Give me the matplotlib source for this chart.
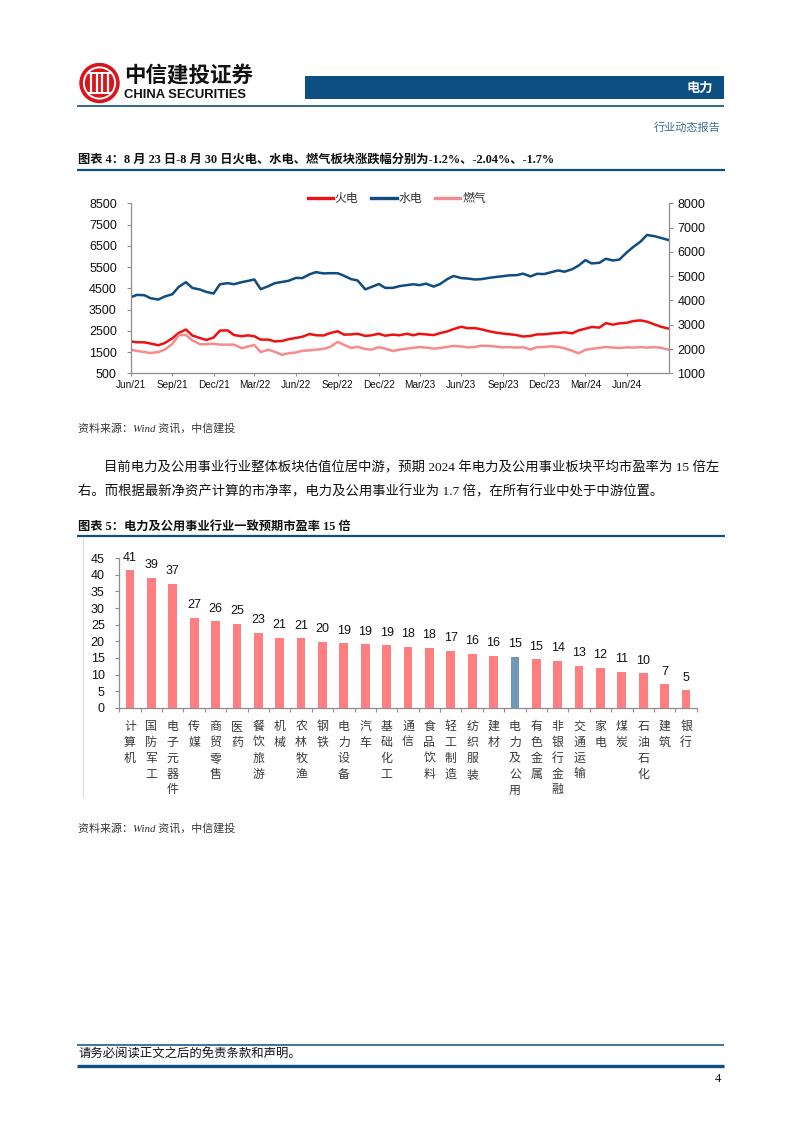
import matplotlib
matplotlib.use('Agg')
import matplotlib.pyplot as plt
import matplotlib.dates as mdates
from matplotlib.patches import Circle, Rectangle
from matplotlib.lines import Line2D
from matplotlib.transforms import blended_transform_factory
import pandas as pd

# ---------------- data ----------------
dates = list(pd.date_range('2021-06-01', periods=78, freq='SMS')) + [pd.Timestamp('2024-08-30')]

thermal = [2000, 1960, 1960, 1900, 1820, 1920, 2150, 2400, 2560, 2280, 2160, 2070, 2180, 2510, 2520, 2300, 2245, 2285, 2245, 2085,
           2085, 2000, 2020, 2100, 2165, 2220, 2350, 2290, 2280, 2390, 2480, 2320, 2330, 2360, 2260, 2290, 2360, 2270, 2320, 2290,
           2360, 2290, 2360, 2330, 2300, 2390, 2470, 2580, 2690, 2620, 2630, 2570, 2480, 2420, 2370, 2340, 2300, 2230, 2260, 2330,
           2335, 2370, 2400, 2430, 2380, 2520, 2600, 2680, 2650, 2860, 2790, 2850, 2880, 2960, 2990, 2930, 2800, 2690, 2610]
hydro = [4080, 4190, 4175, 4033, 3970, 4113, 4220, 4566, 4788, 4519, 4443, 4330, 4254, 4693, 4740, 4693, 4788, 4849, 4915, 4458,
         4600, 4740, 4800, 4850, 4990, 4980, 5160, 5260, 5200, 5210, 5210, 5090, 4930, 4870, 4450, 4566, 4700, 4520, 4520, 4600,
         4650, 4690, 4650, 4720, 4580, 4700, 4930, 5080, 4980, 4960, 4915, 4930, 4990, 5030, 5070, 5110, 5118, 5190, 5060, 5180,
         5170, 5250, 5340, 5280, 5400, 5570, 5825, 5670, 5700, 5890, 5810, 5850, 6200, 6450, 6700, 7010, 6950, 6870, 6780]
gas = [1610, 1550, 1500, 1455, 1500, 1610, 1880, 2300, 2300, 2050, 1870, 1865, 1890, 1850, 1850, 1850, 1680, 1760, 1830, 1500,
       1610, 1510, 1370, 1440, 1480, 1560, 1580, 1610, 1650, 1740, 1980, 1840, 1690, 1750, 1640, 1613, 1730, 1660, 1550, 1610,
       1660, 1700, 1735, 1710, 1660, 1690, 1740, 1790, 1760, 1720, 1740, 1800, 1790, 1760, 1720, 1730, 1710, 1730, 1620, 1730,
       1740, 1770, 1740, 1680, 1560, 1440, 1600, 1650, 1700, 1735, 1710, 1690, 1720, 1710, 1730, 1710, 1730, 1700, 1620]
series_names = ['火电', '水电', '燃气']
left_ticks = [500, 1500, 2500, 3500, 4500, 5500, 6500, 7500, 8500]
right_ticks = [1000, 2000, 3000, 4000, 5000, 6000, 7000, 8000]
xtick_dates = ['2021-06-01', '2021-09-01', '2021-12-01', '2022-03-01', '2022-06-01', '2022-09-01', '2022-12-01',
               '2023-03-01', '2023-06-01', '2023-09-01', '2023-12-01', '2024-03-01', '2024-06-01']

industries = ['计算机', '国防军工', '电子元器件', '传媒', '商贸零售', '医药', '餐饮旅游', '机械', '农林牧渔', '钢铁',
              '电力设备', '汽车', '基础化工', '通信', '食品饮料', '轻工制造', '纺织服装', '建材', '电力及公用', '有色金属',
              '非银行金融', '交通运输', '家电', '煤炭', '石油石化', '建筑', '银行']
pe = [41.4, 39.2, 37.4, 27.1, 26.1, 25.3, 22.6, 21.1, 20.9, 19.8, 19.4, 19.1, 18.8, 18.3, 18.1, 17.2, 16.3, 15.6,
      15.4, 14.6, 14.2, 12.6, 12.0, 10.9, 10.4, 7.0, 5.3]
highlight = '电力及公用'
pe_ticks = [0, 5, 10, 15, 20, 25, 30, 35, 40, 45]

# ---------------- page ----------------
W, H = 802, 1133
fig = plt.figure(figsize=(8.02, 11.33), dpi=100)

def fx(px):
    return px / W

def fy(py):
    return 1 - py / H

SERIF = ['Liberation Serif', 'Noto Sans CJK SC']
SANS = ['Liberation Sans', 'Noto Sans CJK SC']
CJK = ['Noto Sans CJK SC', 'DejaVu Sans']
BLUE = '#0d4f82'
GRAY_AX = '#8c8c8c'

def hline(y, x0, x1, lw, color=BLUE):
    fig.add_artist(Line2D([fx(x0), fx(x1)], [fy(y), fy(y)], transform=fig.transFigure,
                          color=color, lw=lw, solid_capstyle='butt'))

# header logo
axl = fig.add_axes([fx(79), fy(103.5), fx(41), 41 / H])
axl.set_xlim(-1.05, 1.05)
axl.set_ylim(-1.05, 1.05)
axl.set_aspect('equal')
axl.axis('off')
axl.add_patch(Circle((0, 0), 1.0, color='#d9141b'))
axl.add_patch(Circle((0, 0), 0.8, fill=False, ec='white', lw=1.4))
for xv in [-0.42, -0.14, 0.14, 0.42]:
    axl.plot([xv, xv], [-0.5, 0.5], color='white', lw=1.6, solid_capstyle='butt')
axl.plot([-0.55, 0.55], [0.5, 0.5], color='white', lw=1.4)
axl.plot([-0.55, 0.55], [-0.5, -0.5], color='white', lw=1.4)

fig.text(fx(124), fy(75), '中信建投证券', family=CJK, fontsize=15.5, weight='bold', color='#111111',
         va='center', ha='left')
fig.text(fx(124), fy(94.5), 'CHINA SECURITIES', family=['Liberation Sans'], fontsize=9.4, weight='bold',
         color='#111111', va='center', ha='left')
fig.add_artist(Rectangle((fx(305), fy(99.3)), fx(724 - 305), 23.3 / H, transform=fig.transFigure,
                         color=BLUE, lw=0))
fig.text(fx(713), fy(88), '电力', family=CJK, fontsize=9.5, weight='bold', color='white', va='center', ha='right')
hline(106, 77, 724, 1.2)
fig.text(fx(720), fy(127), '行业动态报告', family=CJK, fontsize=8, color='#3f6d96', va='center', ha='right')

# figure 4 title
fig.text(fx(78), fy(160), '图表 4：8 月 23 日-8 月 30 日火电、水电、燃气板块涨跌幅分别为-1.2%、-2.04%、-1.7%',
         family=SERIF, fontsize=8.8, weight='bold', color='#111111', va='center', ha='left')
hline(169.5, 77, 725, 1.6)

# ---------------- chart 4 ----------------
ax4 = fig.add_axes([fx(130.7), fy(373.3), fx(668.7 - 130.7), (373.3 - 203.3) / H])
colors4 = ['#ee1111', '#0f4c7f', '#f78b8b']
for vals, name, c in zip([thermal, hydro, gas], series_names, colors4):
    ax4.plot(dates, vals, color=c, lw=1.8, label=name, solid_joinstyle='round')
ax4.set_ylim(500, 8500)
ax4.set_yticks(left_ticks)
ax4.set_xlim(pd.Timestamp('2021-06-01'), pd.Timestamp('2024-09-01'))
ax4.set_xticks([pd.Timestamp(d) for d in xtick_dates])
ax4.xaxis.set_major_formatter(mdates.DateFormatter('%b/%y'))
ax4.spines['top'].set_visible(False)
ax4.spines['right'].set_visible(False)
for s in ['left', 'bottom']:
    ax4.spines[s].set_color(GRAY_AX)
    ax4.spines[s].set_linewidth(0.9)
ax4.tick_params(axis='y', length=3, width=0.8, color=GRAY_AX, pad=7, labelsize=9, labelcolor='#111111')
ax4.tick_params(axis='x', length=2, width=0.8, color=GRAY_AX, pad=2.8, labelsize=7.2, labelcolor='#111111')
for lab in ax4.get_xticklabels() + ax4.get_yticklabels():
    lab.set_family(['Liberation Sans'])
ax4r = ax4.twinx()
ax4r.set_ylim(1000, 8000)
ax4r.set_yticks(right_ticks)
for s in ['top', 'left', 'bottom']:
    ax4r.spines[s].set_visible(False)
ax4r.spines['right'].set_color(GRAY_AX)
ax4r.spines['right'].set_linewidth(0.9)
ax4r.tick_params(axis='y', length=3, width=0.8, color=GRAY_AX, pad=3.3, labelsize=9, labelcolor='#111111')
for lab in ax4r.get_yticklabels():
    lab.set_family(['Liberation Sans'])
leg = ax4.legend(loc='center', bbox_to_anchor=(0.4946, 1 + 5 / 170), ncol=3, frameon=False,
                 prop={'family': CJK, 'size': 8.6}, handlelength=2.1, handletextpad=0.15,
                 columnspacing=1.1, borderaxespad=0, borderpad=0)
for t in leg.get_texts():
    t.set_color('#333333')
for l in leg.get_lines():
    l.set_linewidth(2.4)

# source 1
fig.text(fx(78), fy(428), '资料来源：Wind 资讯，中信建投', family=SERIF, style='italic', fontsize=7.9,
         color='#333333', va='center', ha='left')

# paragraph
fig.text(fx(104), fy(468), '目前电力及公用事业行业整体板块估值位居中游，预期 2024 年电力及公用事业板块平均市盈率为 15 倍左',
         family=SERIF, fontsize=9.6, color='#111111', va='center', ha='left')
fig.text(fx(78), fy(492), '右。而根据最新净资产计算的市净率，电力及公用事业行业为 1.7 倍，在所有行业中处于中游位置。',
         family=SERIF, fontsize=9.6, color='#111111', va='center', ha='left')

# figure 5 title
fig.text(fx(78), fy(527), '图表 5：电力及公用事业行业一致预期市盈率 15 倍',
         family=SERIF, fontsize=8.8, weight='bold', color='#111111', va='center', ha='left')
hline(536, 77, 725, 1.6)
fig.add_artist(Line2D([fx(83), fx(83)], [fy(537), fy(797)], transform=fig.transFigure, color='#dedede', lw=0.8))

# ---------------- chart 5 ----------------
ax5 = fig.add_axes([fx(119.3), fy(707.7), fx(696.7 - 119.3), (707.7 - 558.3) / H])
xs = list(range(len(industries)))
bar_colors = ['#7098b9' if n == highlight else '#ff7f80' for n in industries]
bars = ax5.bar(xs, pe, width=0.41, color=bar_colors, lw=0)
ax5.set_xlim(-0.5, len(industries) - 0.5)
ax5.set_ylim(0, 45)
ax5.set_yticks(pe_ticks)
ax5.set_xticks([i - 0.5 for i in range(len(industries) + 1)])
ax5.set_xticklabels([])
ax5.spines['top'].set_visible(False)
ax5.spines['right'].set_visible(False)
for s in ['left', 'bottom']:
    ax5.spines[s].set_color(GRAY_AX)
    ax5.spines[s].set_linewidth(0.9)
ax5.tick_params(axis='y', length=3, width=0.8, color=GRAY_AX, pad=7.5, labelsize=9, labelcolor='#111111')
ax5.tick_params(axis='x', length=3, width=0.8, color=GRAY_AX)
for lab in ax5.get_yticklabels():
    lab.set_family(['Liberation Sans'])
for x, v in zip(xs, pe):
    ax5.annotate(f'{v:.0f}', (x, v), xytext=(0, 9), textcoords='offset points', ha='center', va='center',
                 fontsize=9, family=['Liberation Sans'], color='#111111')
tr = blended_transform_factory(ax5.transData, fig.transFigure)
for x, name in zip(xs, industries):
    for j, ch in enumerate(name):
        ax5.text(x, fy(726.7 + 15.8 * j), ch, transform=tr, ha='center', va='center', fontsize=8.6,
                 family=CJK, color='#3a3a3a')

# source 2
fig.text(fx(78), fy(828), '资料来源：Wind 资讯，中信建投', family=SERIF, style='italic', fontsize=7.9,
         color='#333333', va='center', ha='left')

# footer
hline(1044.5, 77, 724, 1.1)
fig.text(fx(78), fy(1053.5), '请务必阅读正文之后的免责条款和声明。', family=SERIF, fontsize=8.9,
         color='#111111', va='center', ha='left')
hline(1065.5, 77, 724, 2.4)
fig.text(fx(721), fy(1079), '4', family=SERIF, fontsize=9, color='#111111', va='center', ha='right')

fig.savefig('out.png', dpi=100)
